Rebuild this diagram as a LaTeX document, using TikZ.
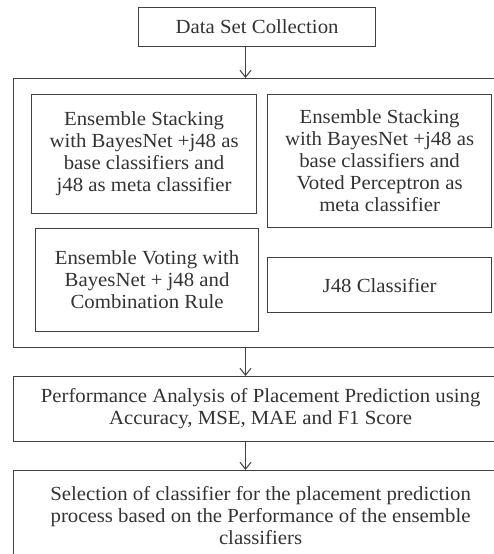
\documentclass[tikz,border=0pt]{standalone}
\usepackage{fontspec}
\setmainfont[FakeStretch=1.04]{Liberation Serif}
\usetikzlibrary{arrows.meta}
\definecolor{ink}{HTML}{333333}
\definecolor{edge}{HTML}{404040}
\tikzset{
  box/.style={draw=edge, line width=1.2pt, anchor=north west, align=center,
    text=ink, inner sep=0pt, font=\fontsize{20}{22}\selectfont},
  flow/.style={draw=edge, line width=1pt, -{Straight Barb[length=7pt,width=11pt,line width=1pt]}}
}
\begin{document}
\begin{tikzpicture}[x=1pt,y=-1pt]
\useasboundingbox (0,0) rectangle (494,554);
\clip (0,0) rectangle (494,554);
\node[box, minimum width=237pt, minimum height=39pt] (dsc) at (138,7) {Data Set Collection};
\node[box, minimum width=494pt, minimum height=269pt] (cont) at (13,78) {};
\node[box, minimum width=225pt, minimum height=119pt] (b1) at (31,94)
  {Ensemble Stacking\\with BayesNet +j48 as\\base classifiers and\\j48 as meta classifier};
\node[box, minimum width=224pt, minimum height=133pt] (b2) at (267,94)
  {Ensemble Stacking\\with BayesNet +j48 as\\base classifiers and\\Voted Perceptron as\\meta classifier};
\node[box, minimum width=223pt, minimum height=103pt] (b3) at (35,228)
  {Ensemble Voting with\\BayesNet + j48 and\\Combination Rule};
\node[box, minimum width=224pt, minimum height=55pt] (b4) at (267,257)
  {J48 Classifier};
\node[box, minimum width=494pt, minimum height=65pt] (perf) at (13,376)
  {Performance Analysis of Placement Prediction using\\Accuracy, MSE, MAE and F1 Score};
\node[box, minimum width=494pt, minimum height=90pt] (sel) at (13,470)
  {Selection of classifier for the placement prediction\\process based on the Performance of the ensemble\\classifiers};
\coordinate (ax) at (245.5,0);
\draw[flow] (ax |- dsc.south) -- (ax |- cont.north);
\draw[flow] (ax |- cont.south) -- (ax |- perf.north);
\draw[flow] (ax |- perf.south) -- (ax |- sel.north);
\end{tikzpicture}
\end{document}
